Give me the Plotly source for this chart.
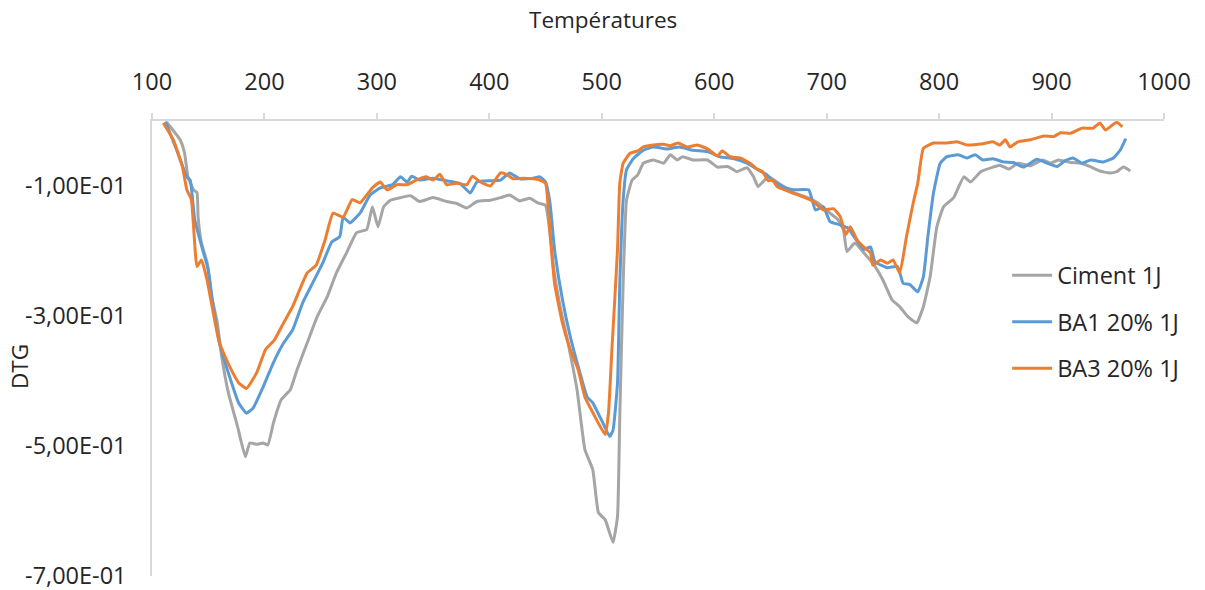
import plotly.graph_objects as go

# ---------------- data ----------------
ciment_t = [113, 125, 129, 132, 137, 140, 141, 144, 149, 153, 158, 162, 168, 176, 183, 187, 193, 199, 203, 208,
            215, 223, 229, 238, 247, 256, 264, 273, 282, 291, 296, 301, 306, 312, 321, 330, 338, 350, 362, 371,
            380, 389, 401, 410, 418, 427, 436, 443, 450, 454, 457, 463, 470, 478, 485, 492, 497, 503, 510, 514,
            516, 519, 522, 527, 532, 537, 546, 555, 561, 567, 572, 581, 594, 603, 612, 620, 629, 635, 639, 648,
            659, 670, 683, 692, 703, 710, 715, 718, 725, 733, 741, 750, 758, 765, 772, 780, 786, 792, 798, 804,
            813, 822, 828, 837, 848, 854, 862, 870, 881, 892, 899, 906, 917, 926, 934, 943, 952, 958, 964, 970]
ciment_v = [-0.002, -0.029, -0.05, -0.086, -0.106, -0.11, -0.148, -0.188, -0.218, -0.27, -0.31, -0.363, -0.419,
            -0.47, -0.517, -0.496, -0.498, -0.496, -0.499, -0.465, -0.429, -0.414, -0.383, -0.342, -0.301, -0.27,
            -0.234, -0.203, -0.172, -0.167, -0.132, -0.163, -0.132, -0.122, -0.118, -0.115, -0.124, -0.118,
            -0.124, -0.127, -0.134, -0.124, -0.122, -0.118, -0.114, -0.123, -0.119, -0.126, -0.13, -0.173,
            -0.224, -0.286, -0.342, -0.414, -0.506, -0.537, -0.603, -0.614, -0.649, -0.609, -0.455, -0.25,
            -0.122, -0.091, -0.083, -0.065, -0.06, -0.065, -0.052, -0.06, -0.055, -0.06, -0.06, -0.071, -0.07,
            -0.078, -0.072, -0.086, -0.101, -0.086, -0.098, -0.11, -0.118, -0.126, -0.142, -0.152, -0.168,
            -0.201, -0.188, -0.203, -0.219, -0.245, -0.275, -0.286, -0.301, -0.311, -0.286, -0.24, -0.163,
            -0.132, -0.118, -0.086, -0.094, -0.078, -0.071, -0.068, -0.074, -0.065, -0.069, -0.06, -0.065,
            -0.06, -0.064, -0.065, -0.07, -0.077, -0.08, -0.078, -0.071, -0.077]

ba1_t = [112, 122, 131, 134, 138, 145, 150, 154, 160, 169, 177, 184, 190, 199, 208, 217, 225, 234, 243, 252,
         260, 267, 270, 276, 285, 294, 303, 314, 321, 327, 331, 338, 350, 362, 374, 383, 389, 401, 410, 418,
         427, 439, 445, 450, 454, 458, 465, 472, 479, 487, 492, 501, 507, 510, 514, 516, 519, 522, 528, 537,
         546, 558, 569, 581, 594, 605, 617, 629, 638, 647, 652, 661, 670, 684, 690, 697, 703, 712, 719, 725,
         733, 739, 743, 754, 763, 768, 774, 781, 786, 790, 795, 801, 807, 817, 825, 832, 839, 848, 857, 866,
         875, 887, 896, 905, 912, 919, 927, 935, 946, 955, 961, 966]
ba1_v = [-0.001, -0.045, -0.086, -0.091, -0.152, -0.198, -0.229, -0.28, -0.342, -0.394, -0.434, -0.45, -0.442,
         -0.409, -0.372, -0.342, -0.322, -0.28, -0.249, -0.218, -0.186, -0.178, -0.148, -0.157, -0.142, -0.114,
         -0.103, -0.098, -0.086, -0.094, -0.085, -0.091, -0.088, -0.092, -0.096, -0.111, -0.094, -0.092,
         -0.091, -0.08, -0.089, -0.088, -0.086, -0.094, -0.127, -0.198, -0.275, -0.332, -0.378, -0.425,
         -0.434, -0.465, -0.486, -0.476, -0.403, -0.25, -0.122, -0.075, -0.058, -0.045, -0.04, -0.043, -0.04,
         -0.045, -0.047, -0.055, -0.058, -0.065, -0.074, -0.083, -0.092, -0.101, -0.106, -0.106, -0.137,
         -0.132, -0.155, -0.16, -0.165, -0.18, -0.198, -0.194, -0.217, -0.226, -0.224, -0.25, -0.252, -0.263,
         -0.24, -0.178, -0.111, -0.065, -0.055, -0.052, -0.057, -0.052, -0.06, -0.058, -0.063, -0.064,
         -0.071, -0.059, -0.065, -0.07, -0.061, -0.057, -0.065, -0.06, -0.063, -0.057, -0.045, -0.027]

ba3_t = [110, 119, 127, 131, 135, 140, 144, 149, 154, 160, 169, 177, 184, 193, 201, 209, 217, 225, 238, 246,
         254, 261, 270, 278, 285, 296, 303, 309, 318, 327, 335, 344, 350, 356, 362, 371, 380, 385, 392, 401,
         410, 416, 421, 430, 439, 445, 450, 454, 458, 465, 472, 479, 485, 492, 503, 506, 509, 514, 516, 519,
         525, 532, 537, 546, 555, 561, 568, 576, 585, 594, 603, 607, 614, 623, 632, 638, 643, 648, 652, 656,
         667, 679, 688, 697, 706, 712, 717, 721, 727, 733, 739, 741, 748, 754, 759, 765, 771, 777, 781, 786,
         795, 807, 816, 825, 839, 848, 854, 859, 863, 870, 881, 893, 902, 908, 917, 927, 937, 943, 948, 955,
         958, 963]
ba3_v = [-0.003, -0.029, -0.07, -0.106, -0.121, -0.224, -0.214, -0.245, -0.291, -0.342, -0.378, -0.403, -0.412,
         -0.388, -0.352, -0.337, -0.311, -0.286, -0.234, -0.222, -0.183, -0.142, -0.148, -0.121, -0.126,
         -0.103, -0.094, -0.106, -0.098, -0.098, -0.091, -0.086, -0.091, -0.082, -0.098, -0.096, -0.098,
         -0.085, -0.094, -0.1, -0.08, -0.083, -0.089, -0.088, -0.089, -0.091, -0.096, -0.173, -0.25, -0.311,
         -0.352, -0.383, -0.425, -0.449, -0.483, -0.449, -0.352, -0.198, -0.096, -0.065, -0.05, -0.046,
         -0.04, -0.037, -0.036, -0.038, -0.034, -0.04, -0.037, -0.043, -0.054, -0.046, -0.055, -0.057,
         -0.065, -0.074, -0.078, -0.092, -0.091, -0.101, -0.109, -0.117, -0.124, -0.137, -0.135, -0.147,
         -0.175, -0.163, -0.183, -0.194, -0.203, -0.222, -0.214, -0.219, -0.214, -0.234, -0.178, -0.126,
         -0.096, -0.042, -0.034, -0.034, -0.032, -0.037, -0.035, -0.032, -0.037, -0.029, -0.04, -0.032,
         -0.029, -0.023, -0.024, -0.018, -0.019, -0.011, -0.011, -0.003, -0.014, -0.005, -0.002, -0.009]

series_names = ["Ciment 1J", "BA1 20% 1J", "BA3 20% 1J"]
series_colors = ["#A5A5A5", "#5B9BD5", "#ED7D31"]

x_tickvals = [100, 200, 300, 400, 500, 600, 700, 800, 900, 1000]
y_tickvals = [-0.1, -0.3, -0.5, -0.7]
y_ticktext = ["-1,00E-01", "-3,00E-01", "-5,00E-01", "-7,00E-01"]

x_title = "Températures"
y_title = "DTG"

# ---------------- figure ----------------
FONT = "Open Sans, Segoe UI, DejaVu Sans, sans-serif"
TXT = "#262626"
AX = "#d9d9d9"

fig = go.Figure()
for i, (t, v) in enumerate([(ciment_t, ciment_v), (ba1_t, ba1_v), (ba3_t, ba3_v)]):
    fig.add_trace(go.Scatter(
        x=t, y=v, mode="lines", name=series_names[i], legendgroup=f"g{i}",
        line=dict(color=series_colors[i], width=3, shape="spline", smoothing=0.4),
    ))

fig.update_layout(
    width=1205, height=590,
    margin=dict(l=152, r=41, t=121, b=14, autoexpand=False),
    paper_bgcolor="white", plot_bgcolor="white",
    font=dict(family=FONT, size=23, color=TXT),
    showlegend=True,
    legend=dict(
        x=0.845, y=0.709, xanchor="left", yanchor="top",
        bgcolor="rgba(0,0,0,0)", font=dict(size=23.5, color=TXT),
        tracegroupgap=13, itemwidth=40,
    ),
    xaxis=dict(
        side="top", range=[100, 1000], tickvals=x_tickvals, automargin=False,
        showline=True, linecolor=AX, linewidth=1.5,
        ticks="outside", ticklen=6, tickcolor=AX, tickwidth=1.5,
        showgrid=False, zeroline=False, ticklabelstandoff=14,
        tickfont=dict(size=23.5),
    ),
    yaxis=dict(
        range=[-0.7008, 0], tickvals=y_tickvals, ticktext=y_ticktext, automargin=False,
        showline=True, linecolor=AX, linewidth=1.5,
        ticks="", showgrid=False, zeroline=False, ticklabelstandoff=19,
        tickfont=dict(size=23.5), ticklabeloverflow="allow",
    ),
    annotations=[
        dict(text=x_title, xref="paper", yref="paper", x=(603 - 152) / 1012, y=(576 - 20) / 455,
             xanchor="center", yanchor="middle", showarrow=False, font=dict(size=22.5, color=TXT)),
        dict(text=y_title, xref="paper", yref="paper", x=(19 - 152) / 1012, y=(576 - 367) / 455,
             xanchor="center", yanchor="middle", textangle=-90, showarrow=False,
             font=dict(size=22.5, color=TXT)),
    ],
)

fig.write_html("out.html", config={"displayModeBar": False},
               post_script="document.body.style.margin='0';")
